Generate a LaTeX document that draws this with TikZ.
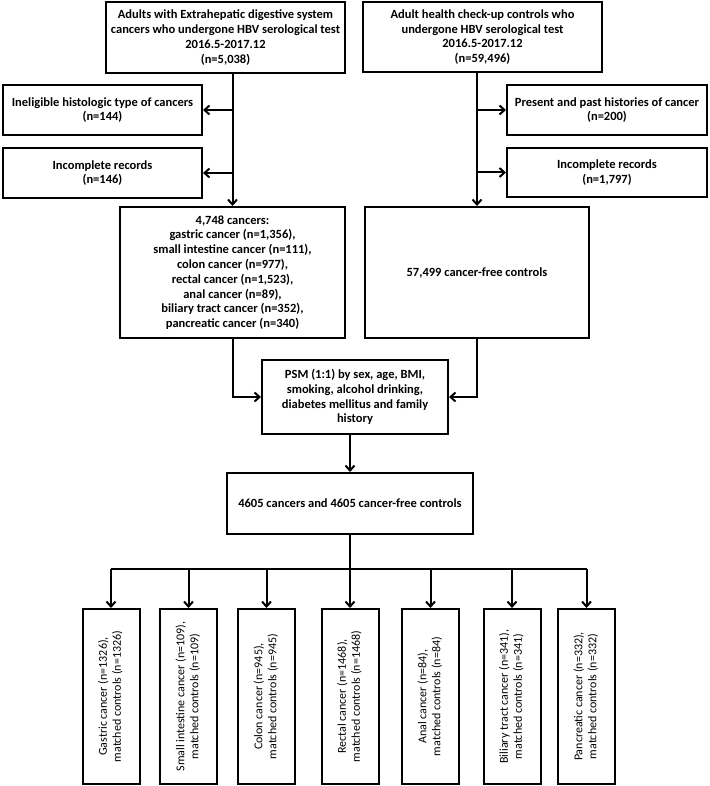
\documentclass[tikz,border=0pt]{standalone}
\usepackage{fontspec}
\setmainfont{Carlito}
\usetikzlibrary{arrows.meta}
\begin{document}
\begin{tikzpicture}[x=1pt,y=-1pt,
  box/.style={draw, line width=2pt, inner sep=2pt, align=center,
    font=\fontsize{12.5}{14.8}\selectfont\bfseries},
  sbox/.style={draw, line width=2pt, inner sep=0pt, minimum width=57pt, minimum height=175pt,
    font=\fontsize{12}{14}\selectfont},
  conn/.style={line width=2pt},
  arr/.style={conn, -{Straight Barb[length=5pt,width=9pt,line width=2pt]}}]
\useasboundingbox (0,0) rectangle (709,786);
% top row
\node[box, minimum width=239pt, minimum height=71pt] (A) at (225.5,37.5)
  {Adults with Extrahepatic digestive system\\cancers who undergone HBV serological test\\2016.5-2017.12\\(n=5,038)};
\node[box, minimum width=239pt, minimum height=70pt] (D) at (482.5,37)
  {Adult health check-up controls who\\undergone HBV serological test\\2016.5-2017.12\\(n=59,496)};
% exclusions
\node[box, minimum width=199pt, minimum height=50pt] (B) at (102.5,110)
  {Ineligible histologic type of cancers\\(n=144)};
\node[box, minimum width=199pt, minimum height=50pt] (C) at (102.5,173)
  {Incomplete records\\(n=146)};
\node[box, minimum width=200pt, minimum height=50pt] (E) at (607,110)
  {Present and past histories of cancer\\(n=200)};
\node[box, minimum width=200pt, minimum height=49pt] (F) at (607,172.5)
  {Incomplete records\\(n=1,797)};
% middle
\node[box, minimum width=225pt, minimum height=131pt] (G) at (232.5,272.5)
  {4,748 cancers:\\gastric cancer (n=1,356),\\small intestine cancer (n=111),\\colon cancer (n=977),\\rectal cancer (n=1,523),\\anal cancer (n=89),\\biliary tract cancer (n=352),\\pancreatic cancer (n=340)};
\node[box, minimum width=224pt, minimum height=131pt] (H) at (477,272.5)
  {57,499 cancer-free controls};
\node[box, minimum width=186pt, minimum height=74pt] (I) at (355,397)
  {PSM (1:1) by sex, age, BMI,\\smoking, alcohol drinking,\\diabetes mellitus and family\\history};
\node[box, minimum width=246pt, minimum height=61pt] (J) at (350,503.5)
  {4605 cancers and 4605 cancer-free controls};
% bottom boxes
\node[sbox] (K1) at (111,696.5) {\rotatebox{90}{\begin{tabular}{@{}c@{}}Gastric cancer (n=1326),\\matched controls (n=1326)\end{tabular}}};
\node[sbox] (K2) at (188.5,696.5) {\rotatebox{90}{\begin{tabular}{@{}c@{}}Small intestine cancer (n=109),\\matched controls (n=109)\end{tabular}}};
\node[sbox] (K3) at (266.5,696.5) {\rotatebox{90}{\begin{tabular}{@{}c@{}}Colon cancer (n=945),\\matched controls (n=945)\end{tabular}}};
\node[sbox] (K4) at (350,696.5) {\rotatebox{90}{\begin{tabular}{@{}c@{}}Rectal cancer (n=1468),\\matched controls (n=1468)\end{tabular}}};
\node[sbox] (K5) at (430.5,696.5) {\rotatebox{90}{\begin{tabular}{@{}c@{}}Anal cancer (n=84),\\matched controls (n=84)\end{tabular}}};
\node[sbox] (K6) at (512,696.5) {\rotatebox{90}{\begin{tabular}{@{}c@{}}Biliary tract cancer (n=341),\\matched controls (n=341)\end{tabular}}};
\node[sbox] (K7) at (586.5,696.5) {\rotatebox{90}{\begin{tabular}{@{}c@{}}Pancreatic cancer (n=332),\\matched controls (n=332)\end{tabular}}};
\coordinate (bus) at (350,569);
% connectors
\draw[arr] (A.south -| G.north) -- (G.north);
\draw[arr] (B.east -| G.north) -- (B.east);
\draw[arr] (C.east -| G.north) -- (C.east);
\draw[arr] (D.south -| H.north) -- (H.north);
\draw[arr] (E.west -| H.north) -- (E.west);
\draw[arr] (F.west -| H.north) -- (F.west);
\draw[arr] (G.south) |- (I.west);
\draw[arr] (H.south) |- (I.east);
\draw[arr] (I.south -| J.north) -- (J.north);
\draw[conn] (J.south) -- (bus);
\draw[conn] (bus -| K1.north) -- (bus -| K7.north);
\foreach \k in {K1,K2,K3,K4,K5,K6,K7}
  \draw[arr] (bus -| \k.north) -- (\k.north);
\end{tikzpicture}
\end{document}
